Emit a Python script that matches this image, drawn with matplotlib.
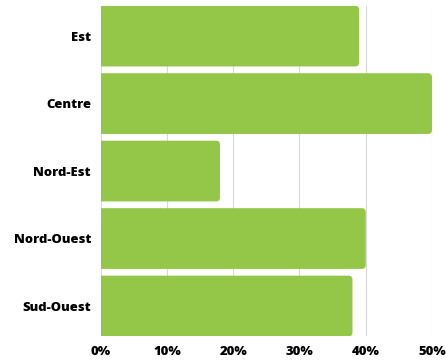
import matplotlib
matplotlib.use("Agg")
import matplotlib.pyplot as plt
from matplotlib.patches import FancyBboxPatch
from matplotlib.ticker import FuncFormatter

plt.rcParams["font.family"] = ["Open Sans", "DejaVu Sans"]

# share per region (%)
regions = ["Est", "Centre", "Nord-Est", "Nord-Ouest", "Sud-Ouest"]
shares = [39, 50, 18, 40, 38]
xticks = [0, 10, 20, 30, 40, 50]

bar_color = "#94c748"

fig = plt.figure(figsize=(4.46, 3.62), dpi=100)
ax = fig.add_axes([0.2258, 0.0707, 0.7428, 0.9135])

ypos = list(range(len(regions)))
bars = ax.barh(ypos, shares, height=0.9, color=bar_color, zorder=2)

# swap the plain rectangles for ones with rounded corners
x_per_px = 50 / (0.7428 * 446)
y_per_px = 4.9 / (0.9135 * 362)
r = 4 * x_per_px
for b in bars:
    x0, y0 = b.get_x(), b.get_y()
    w, h = b.get_width(), b.get_height()
    b.set_visible(False)
    p = FancyBboxPatch((x0 - 2 * r, y0), w + 2 * r, h,
                       boxstyle="round,pad=0,rounding_size=%f" % r,
                       mutation_aspect=y_per_px / x_per_px,
                       facecolor=bar_color, edgecolor="none", zorder=2)
    ax.add_patch(p)

ax.set_xlim(0, 50)
ax.set_ylim(len(regions) - 0.55, -0.45)
ax.set_xticks(xticks)
ax.xaxis.set_major_formatter(FuncFormatter(lambda v, _: "%d%%" % v))
ax.set_yticks(ypos)
ax.set_yticklabels(regions)

ax.grid(axis="x", color="#d9d9d9", linewidth=0.8, zorder=0)
ax.set_axisbelow(True)
for s in ax.spines.values():
    s.set_visible(False)
ax.tick_params(axis="both", length=0, labelsize=9.4, labelcolor="black")
ax.tick_params(axis="y", pad=7)
ax.tick_params(axis="x", pad=7)
for lbl in ax.get_xticklabels() + ax.get_yticklabels():
    lbl.set_fontweight(800)

fig.savefig("out.png", dpi=100)
